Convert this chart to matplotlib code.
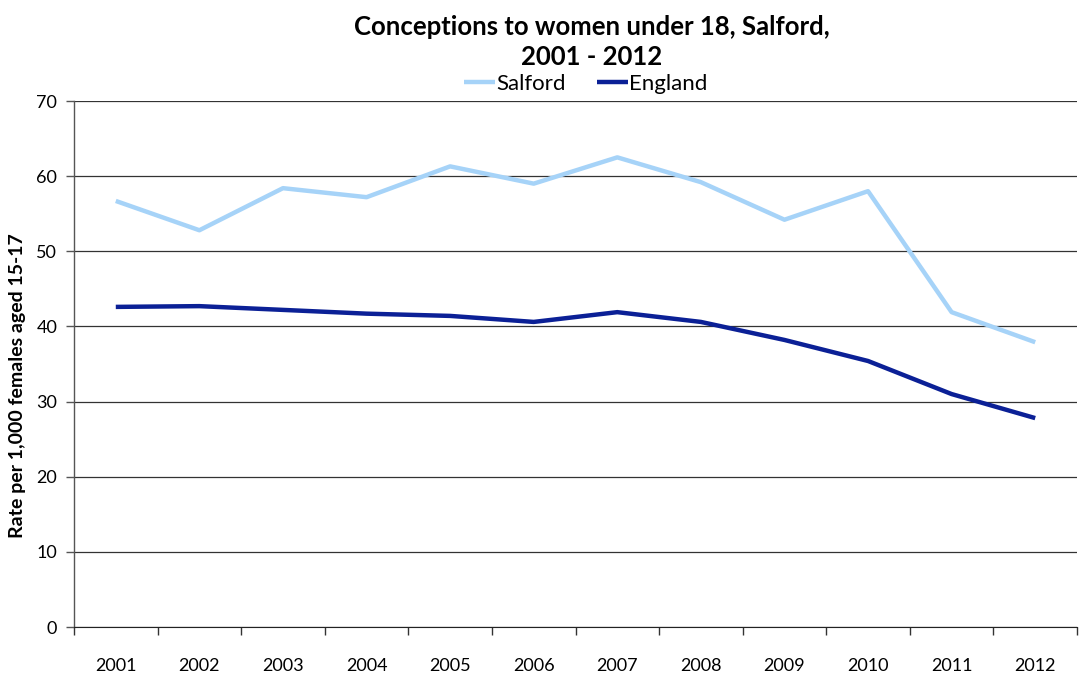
import matplotlib
matplotlib.use("Agg")
import matplotlib.pyplot as plt
import numpy as np

years = ["2001", "2002", "2003", "2004", "2005", "2006", "2007", "2008", "2009", "2010", "2011", "2012"]
salford = [56.7, 52.8, 58.4, 57.2, 61.3, 59.0, 62.5, 59.2, 54.2, 58.0, 41.9, 37.9]
england = [42.6, 42.7, 42.2, 41.7, 41.4, 40.6, 41.9, 40.6, 38.2, 35.4, 31.0, 27.8]

plt.rcParams['font.family'] = ['Lato', 'DejaVu Sans']

fig = plt.figure(figsize=(10.79, 6.73), dpi=100)
ax = fig.add_axes([74/1079, 1 - 627/673, (1077-74)/1079, (627-101)/673])

x = np.arange(len(years))
ax.plot(x, salford, color="#a6d3f8", lw=3.2, label="Salford", solid_capstyle="butt")
ax.plot(x, england, color="#0b2096", lw=3.2, label="England", solid_capstyle="butt")

ax.set_xlim(-0.5, len(years) - 0.5)
ax.set_ylim(0, 70)
ax.set_yticks(np.arange(0, 71, 10))
ax.set_xticks(x)
ax.set_xticklabels(years, fontsize=13)
ax.set_xticks(np.arange(-0.5, len(years), 1.0), minor=True)
ax.tick_params(axis="x", which="major", length=0, pad=22)
ax.tick_params(axis="x", which="minor", length=6, color="#333333", width=1)
ax.tick_params(axis="y", length=6, color="#555555", width=1, labelsize=13, pad=6)
ax.grid(axis="y", color="#333333", lw=0.9)
ax.set_axisbelow(True)
for s in ["top", "right"]:
    ax.spines[s].set_visible(False)
ax.spines["left"].set_color("#555555")
ax.spines["bottom"].set_color("#222222")
ax.spines["left"].set_linewidth(1)

fig.text(18/1079, 1 - 386/673, "Rate per 1,000 females aged 15-17", rotation=90, ha="center", va="center",
         fontsize=14, fontweight="bold")

fig.text(592/1079, 1 - 27/673, "Conceptions to women under 18, Salford,", ha="center", va="center",
         fontsize=18.5, fontweight="bold")
fig.text(592/1079, 1 - 57/673, "2001 - 2012", ha="center", va="center", fontsize=18.5, fontweight="bold")

leg = fig.legend(loc="center", bbox_to_anchor=(586/1079, 1 - 84/673), ncol=2, frameon=False,
                 fontsize=16, handlelength=1.4, handletextpad=0.05, columnspacing=1.4)

fig.savefig("out.png", dpi=100)
